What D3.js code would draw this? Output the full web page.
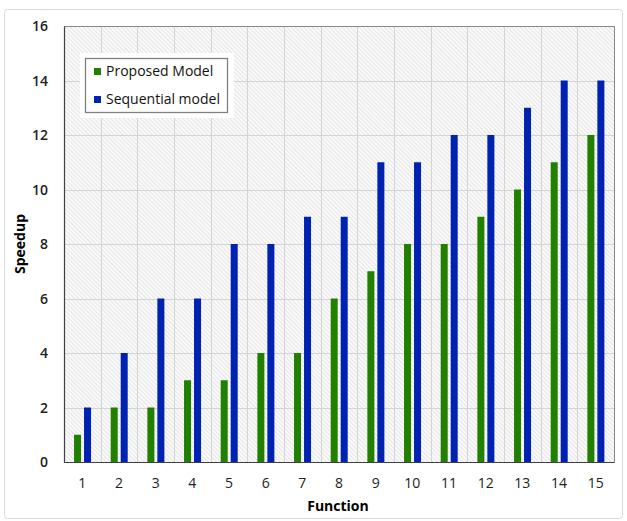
<!DOCTYPE html>
<html>
<head>
<meta charset="utf-8">
<script src="https://cdn.jsdelivr.net/npm/d3@7"></script>
<style>
  body { margin: 0; background: #fff; }
  text { font-family: "Open Sans", "Liberation Sans", sans-serif; }
</style>
</head>
<body>
<svg id="chart" width="627" height="521"></svg>
<script>
var functions = ['1', '2', '3', '4', '5', '6', '7', '8', '9', '10', '11', '12', '13', '14', '15']
var proposed = [1, 2, 2, 3, 3, 4, 4, 6, 7, 8, 8, 9, 10, 11, 12]
var sequential = [2, 4, 6, 6, 8, 8, 9, 9, 11, 11, 12, 12, 13, 14, 14]
var yTicks = [0, 2, 4, 6, 8, 10, 12, 14, 16]
var seriesNames = ['Proposed Model', 'Sequential model']
var colors = ['#228000', '#0022b0']

var svg = d3.select('#chart')
// plot box (don't call it top, window.top is taken)
var pLeft = 64, pTop = 26, pRight = 614, pBottom = 462

// outer frame
svg.append('rect')
  .attr('x', 4.5).attr('y', 9.5).attr('width', 618).attr('height', 509)
  .attr('rx', 3)
  .attr('fill', '#fff').attr('stroke', '#d9d9d9')

// hatch pattern for the plot area
var defs = svg.append('defs')
var pat = defs.append('pattern')
  .attr('id', 'hatch')
  .attr('patternUnits', 'userSpaceOnUse')
  .attr('width', 3).attr('height', 3)
  .attr('patternTransform', 'rotate(-45)')
pat.append('rect').attr('width', 3).attr('height', 3).attr('fill', '#fafafa')
pat.append('line')
  .attr('x1', 0).attr('y1', 0).attr('x2', 0).attr('y2', 3)
  .attr('stroke', '#d0d0d0').attr('stroke-width', 1)

var x = d3.scaleBand().domain(functions).range([pLeft, pRight])
var y = d3.scaleLinear().domain([0, 16]).range([pBottom, pTop])

svg.append('rect')
  .attr('x', pLeft).attr('y', pTop)
  .attr('width', pRight - pLeft).attr('height', pBottom - pTop)
  .attr('fill', 'url(#hatch)')

// grid lines
svg.append('g').selectAll('line')
  .data(yTicks.slice(1, -1))
  .enter().append('line')
  .attr('x1', pLeft).attr('x2', pRight)
  .attr('y1', d => Math.round(y(d)) + 0.5).attr('y2', d => Math.round(y(d)) + 0.5)
  .attr('stroke', '#d4d4d4')

svg.append('g').selectAll('line')
  .data(functions.slice(1))
  .enter().append('line')
  .attr('x1', d => Math.round(x(d)) + 0.5).attr('x2', d => Math.round(x(d)) + 0.5)
  .attr('y1', pTop).attr('y2', pBottom)
  .attr('stroke', '#d4d4d4')

// bars
var barW = 7
var offsets = [-8.3, 1.7]
;[proposed, sequential].forEach(function (vals, s) {
  svg.append('g').selectAll('rect')
    .data(vals)
    .enter().append('rect')
    .attr('x', (d, i) => x(functions[i]) + x.bandwidth() / 2 + offsets[s])
    .attr('width', barW)
    .attr('y', d => y(d))
    .attr('height', d => y(0) - y(d))
    .attr('fill', colors[s])
})

// plot border
svg.append('path')
  .attr('d', 'M' + (pLeft + 0.5) + ',' + (pBottom + 0.5) + 'V' + (pTop + 0.5) + 'H' + (pRight + 0.5) + 'V' + (pBottom + 0.5))
  .attr('fill', 'none').attr('stroke', '#888')
svg.append('path')
  .attr('d', 'M' + (pLeft + 0.5) + ',' + (pTop + 0.5) + 'V' + (pBottom + 0.5) + 'H' + (pRight + 0.5))
  .attr('fill', 'none').attr('stroke', '#404040').attr('stroke-width', 1.2)

// y tick labels
svg.append('g').selectAll('text')
  .data(yTicks)
  .enter().append('text')
  .attr('x', 48).attr('y', d => y(d) + 5)
  .attr('text-anchor', 'end')
  .attr('font-size', 14).attr('font-weight', 600).attr('fill', '#222')
  .text(d => d)

// x tick labels
svg.append('g').selectAll('text')
  .data(functions)
  .enter().append('text')
  .attr('x', d => x(d) + x.bandwidth() / 2).attr('y', 488)
  .attr('text-anchor', 'middle')
  .attr('font-size', 14).attr('fill', '#222')
  .text(d => d)

// axis titles
svg.append('text')
  .attr('x', 338).attr('y', 511)
  .attr('text-anchor', 'middle')
  .attr('font-size', 14).attr('font-weight', 'bold')
  .text('Function')
svg.append('text')
  .attr('transform', 'translate(25,' + ((pTop + pBottom) / 2) + ') rotate(-90)')
  .attr('text-anchor', 'middle')
  .attr('font-size', 14).attr('font-weight', 'bold')
  .text('Speedup')

// legend: white halo, then the bordered box
var lg = svg.append('g')
lg.append('rect')
  .attr('x', 80).attr('y', 53).attr('width', 154).attr('height', 65)
  .attr('fill', '#fff')
lg.append('rect')
  .attr('x', 85.5).attr('y', 58.5).attr('width', 142).attr('height', 54)
  .attr('fill', '#fff').attr('stroke', '#808080').attr('stroke-width', 1.3)
seriesNames.forEach(function (name, i) {
  lg.append('rect')
    .attr('x', 94).attr('y', 68 + i * 28).attr('width', 7).attr('height', 7)
    .attr('fill', colors[i])
  lg.append('text')
    .attr('x', 106).attr('y', 76 + i * 28)
    .attr('font-size', 14).attr('fill', '#111')
    .text(name)
})
</script>
</body>
</html>
